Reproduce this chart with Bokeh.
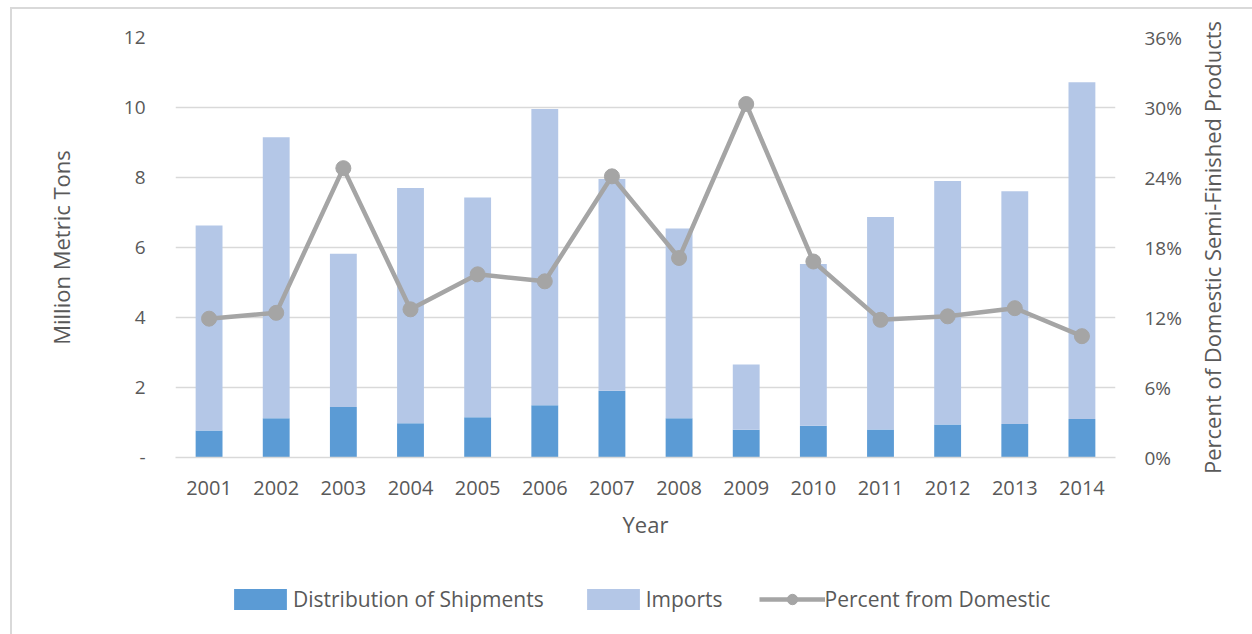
from bokeh.plotting import figure
from bokeh.layouts import column, row
from bokeh.models import (FactorRange, Range1d, LinearAxis, FixedTicker, NumeralTickFormatter,
                          Legend, LegendItem, ColumnDataSource, Title)
from bokeh.embed import file_html
from bokeh.resources import INLINE

years = ["2001", "2002", "2003", "2004", "2005", "2006", "2007",
         "2008", "2009", "2010", "2011", "2012", "2013", "2014"]
shipments = [0.77, 1.12, 1.44, 0.98, 1.15, 1.49, 1.91, 1.12, 0.79, 0.91, 0.80, 0.94, 0.96, 1.10]
imports = [5.86, 8.03, 4.38, 6.72, 6.28, 8.47, 6.05, 5.42, 1.87, 4.62, 6.07, 6.96, 6.65, 9.62]
pct_domestic = [11.9, 12.4, 24.8, 12.7, 15.7, 15.1, 24.1, 17.1, 30.3, 16.8, 11.8, 12.1, 12.8, 10.4]
left_ticks = [0, 2, 4, 6, 8, 10, 12]
right_ticks = [0.0, 0.06, 0.12, 0.18, 0.24, 0.30, 0.36]

FONT = "Open Sans"
TXT = "#595959"
GRID = "#d9d9d9"
C_SHIP = "#5b9bd5"
C_IMP = "#b4c7e7"
C_LINE = "#a5a5a5"

src = ColumnDataSource(dict(year=years, ship=shipments, imp=imports,
                            pct=[v / 100 for v in pct_domestic]))

p = figure(x_range=FactorRange(*years, range_padding=0), y_range=Range1d(0, 12),
           width=1173, height=548, output_backend="svg", toolbar_location=None,
           min_border_left=163, min_border_right=70, min_border_top=28, min_border_bottom=100)
p.outline_line_color = None
p.extra_y_ranges = {"pct": Range1d(0, 0.36)}

p.vbar_stack(["ship", "imp"], x="year", width=0.4, source=src,
             color=[C_SHIP, C_IMP], line_color=None)
p.line("year", "pct", source=src, y_range_name="pct", line_color=C_LINE, line_width=4.5)
p.scatter("year", "pct", source=src, y_range_name="pct", size=15,
          fill_color=C_LINE, line_color=C_LINE)

# grid
p.xgrid.grid_line_color = None
p.ygrid.grid_line_color = GRID
p.ygrid.grid_line_width = 1.5
p.ygrid.ticker = FixedTicker(ticks=left_ticks)

# x axis
xa = p.xaxis[0]
xa.axis_line_color = GRID
xa.axis_line_width = 1.5
xa.major_tick_line_color = None
xa.minor_tick_line_color = None
xa.major_label_text_font = FONT
xa.major_label_text_font_size = "20px"
xa.major_label_text_color = TXT
xa.major_label_standoff = 17
xa.axis_label = "Year"
xa.axis_label_text_font = FONT
xa.axis_label_text_font_size = "22px"
xa.axis_label_text_font_style = "normal"
xa.axis_label_text_color = TXT
xa.axis_label_standoff = 11

# left axis
ya = p.yaxis[0]
ya.ticker = FixedTicker(ticks=left_ticks)
ya.major_label_overrides = {0: "-"}
ya.axis_line_color = None
ya.major_tick_line_color = None
ya.minor_tick_line_color = None
ya.major_label_text_font = FONT
ya.major_label_text_font_size = "19px"
ya.major_label_text_color = TXT
ya.major_label_standoff = 24
ya.axis_label = "Million Metric Tons"
ya.axis_label_text_font = FONT
ya.axis_label_text_font_size = "22px"
ya.axis_label_text_font_style = "normal"
ya.axis_label_text_color = TXT
ya.axis_label_standoff = 45

# right axis (tick labels only; its title is drawn in the strip to the right)
ra = LinearAxis(y_range_name="pct", ticker=FixedTicker(ticks=right_ticks),
                formatter=NumeralTickFormatter(format="0%"))
ra.axis_line_color = None
ra.major_tick_line_color = None
ra.minor_tick_line_color = None
ra.major_label_text_font = FONT
ra.major_label_text_font_size = "19px"
ra.major_label_text_color = TXT
ra.major_label_standoff = 23
p.add_layout(ra, "right")

# right title strip (same frame extents as the chart; title reads bottom-to-top)
rt = figure(width=67, height=548, output_backend="svg", toolbar_location=None,
            x_range=Range1d(0, 1), y_range=Range1d(0, 1),
            min_border_left=41, min_border_right=0, min_border_top=28, min_border_bottom=100)
rt.axis.visible = False
rt.grid.visible = False
rt.outline_line_color = None
rt.add_layout(Title(text="Percent of Domestic Semi-Finished Products", align="center",
                    text_font=FONT, text_font_size="22px", text_font_style="normal",
                    text_color=TXT, standoff=0, offset=-20), "left")

# legend strip (separate figure below the chart; its glyph renderers are hidden)
lg = figure(width=1240, height=77, output_backend="svg", toolbar_location=None,
            x_range=FactorRange(*years), y_range=Range1d(0, 12),
            min_border_left=0, min_border_right=0, min_border_top=0, min_border_bottom=0)
lg.axis.visible = False
lg.grid.visible = False
lg.outline_line_color = None
lbars = lg.vbar_stack(["ship", "imp"], x="year", width=0.4, source=src,
                      color=[C_SHIP, C_IMP], line_color=None)
r_line = lg.line("year", "pct", source=src, line_color=C_LINE, line_width=4.5)
r_dot = lg.scatter("year", "pct", source=src, size=15, fill_color=C_LINE, line_color=C_LINE)
for r in list(lbars) + [r_line, r_dot]:
    r.visible = False

legend = Legend(items=[LegendItem(label="Distribution of Shipments", renderers=[lbars[0]]),
                       LegendItem(label="Imports", renderers=[lbars[1]]),
                       LegendItem(label="Percent from Domestic", renderers=[r_line, r_dot])],
                orientation="horizontal", location=(215, 21),
                glyph_width=66, glyph_height=26, label_standoff=0, spacing=36,
                padding=2, margin=0, border_line_color=None, background_fill_alpha=0,
                inactive_fill_alpha=0,
                label_text_font=FONT, label_text_font_size="21px", label_text_color=TXT)
lg.add_layout(legend, "center")

layout = column(row(p, rt, spacing=0), lg, spacing=0, margin=(7, 0, 0, 10),
                styles={"border-top": "2px solid #d9d9d9", "border-left": "2px solid #d9d9d9"})
open("out.html", "w").write(file_html(layout, INLINE))
